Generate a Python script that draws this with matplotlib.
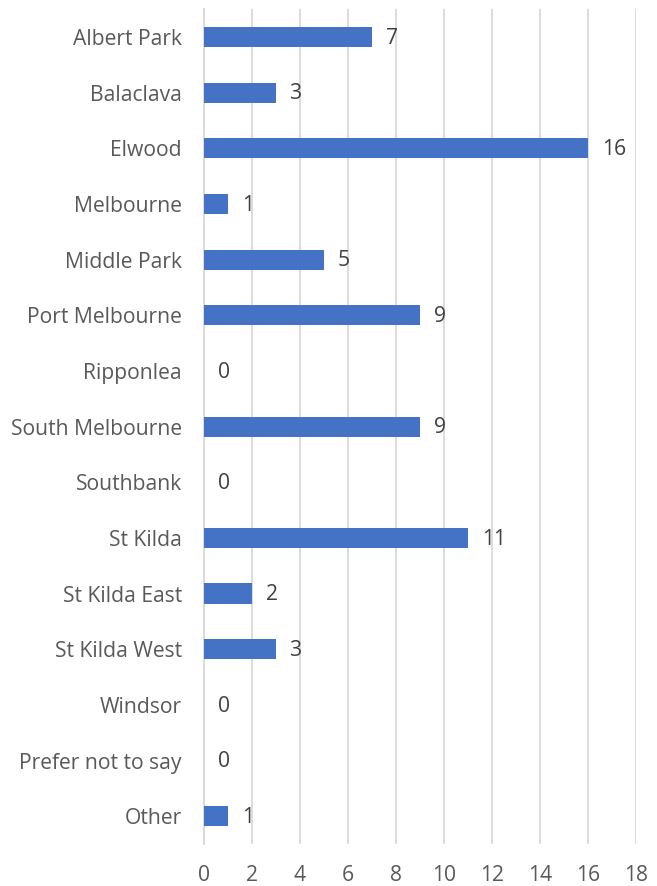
import matplotlib.pyplot as plt

plt.rcParams['font.family'] = ['Open Sans', 'DejaVu Sans']

suburbs = ['Albert Park', 'Balaclava', 'Elwood', 'Melbourne', 'Middle Park',
           'Port Melbourne', 'Ripponlea', 'South Melbourne', 'Southbank',
           'St Kilda', 'St Kilda East', 'St Kilda West', 'Windsor',
           'Prefer not to say', 'Other']
counts = [7, 3, 16, 1, 5, 9, 0, 9, 0, 11, 2, 3, 0, 0, 1]
xticks = list(range(0, 19, 2))

fig = plt.figure(figsize=(6.57, 8.86), dpi=100)
ax = fig.add_axes([0.3105, 0.0474, 0.6575, 0.9424])

pos = list(range(len(suburbs)))
ax.barh(pos, counts, height=0.36, color='#4472C4', zorder=3)
ax.set_ylim(len(suburbs) - 0.5, -0.5)
ax.set_xlim(0, 18)
ax.set_yticks(pos)
ax.set_yticklabels(suburbs, fontsize=15.2, color='#595959')
ax.set_xticks(xticks)
ax.set_xticklabels([str(t) for t in xticks], fontsize=15.2, color='#595959')

# value labels
for p, c in zip(pos, counts):
    ax.annotate(str(c), (c, p), xytext=(10, -1), textcoords='offset points',
                va='center', ha='left', fontsize=15.2, color='#404040')

ax.grid(axis='x', color='#D9D9D9', linewidth=1.3, zorder=0)
for s in ['top', 'right', 'bottom']:
    ax.spines[s].set_visible(False)
ax.spines['left'].set_color('#D9D9D9')
ax.spines['left'].set_linewidth(1.3)
ax.tick_params(axis='y', length=0, pad=16)
ax.tick_params(axis='x', length=0, pad=15)

fig.savefig('out.png', dpi=100)
